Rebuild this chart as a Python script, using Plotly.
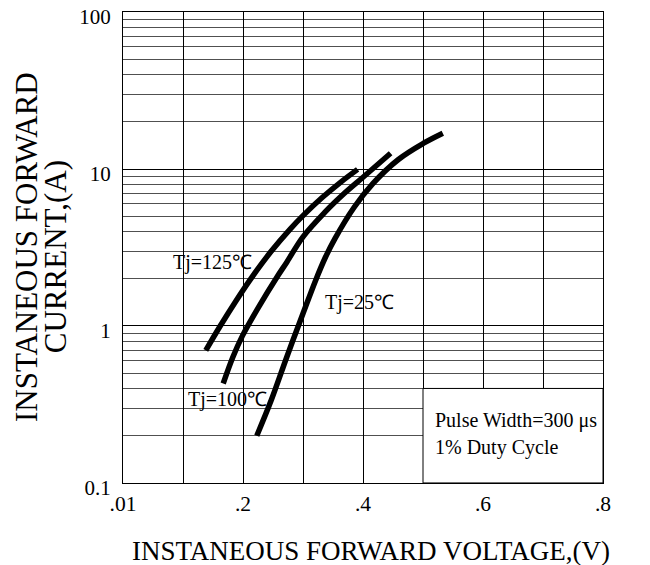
import plotly.graph_objects as go

# Forward characteristics (V, A)
v_125 = [0.138, 0.162, 0.188, 0.215, 0.247, 0.279, 0.300, 0.332, 0.363, 0.391]
i_125 = [0.70, 1.00, 1.44, 2.05, 2.99, 4.16, 5.05, 6.58, 8.26, 9.95]

v_100 = [0.167, 0.183, 0.199, 0.226, 0.257, 0.273, 0.300, 0.337, 0.369, 0.401, 0.446]
i_100 = [0.43, 0.632, 0.865, 1.32, 2.06, 2.55, 3.70, 5.33, 7.00, 8.93, 12.6]

v_25 = [0.223, 0.247, 0.273, 0.300, 0.321, 0.337, 0.353, 0.385, 0.416, 0.459, 0.501, 0.533]
i_25 = [0.20, 0.336, 0.635, 1.2, 1.95, 2.72, 3.59, 5.69, 8.04, 11.5, 14.6, 16.9]

x_tickvals = [0, 0.1, 0.2, 0.3, 0.4, 0.5, 0.6, 0.7, 0.8]
x_ticktext = [".01", "", ".2", "", ".4", "", ".6", "", ".8"]
y_tickvals = [0.1, 1, 10, 100]
y_ticktext = ["0.1", "1", "10", "100"]

FONT = "Liberation Serif, Times New Roman, serif"

fig = go.Figure()
for v, i in [(v_125, i_125), (v_100, i_100), (v_25, i_25)]:
    fig.add_trace(go.Scatter(x=v, y=i, mode="lines",
                             line=dict(color="black", width=5.5, shape="spline", smoothing=1),
                             showlegend=False, hoverinfo="skip"))

# white note box covering the grid in the lower-right corner
fig.add_shape(type="rect", xref="x", yref="y", x0=0.5, x1=0.8, y0=0.1, y1=0.4,
              fillcolor="white", line=dict(color="black", width=1), layer="between")

ann_font = dict(family=FONT, size=20, color="black")
fig.add_annotation(x=0.1485, y=0.406, xref="x", yref="y", text="Tj=125℃",
                   showarrow=False, font=ann_font, xanchor="center")
fig.add_annotation(x=0.1735, y=-0.467, xref="x", yref="y", text="Tj=100℃",
                   showarrow=False, font=ann_font, xanchor="center")
fig.add_annotation(x=0.334, y=0.151, xref="x", yref="y", text="Tj=25℃",
                   showarrow=False, font=ann_font, xanchor="left")
fig.add_annotation(x=0.517, y=-0.60, xref="x", yref="y", text="Pulse Width=300 μs",
                   showarrow=False, font=ann_font, xanchor="left")
fig.add_annotation(x=0.517, y=-0.776, xref="x", yref="y", text="1% Duty Cycle",
                   showarrow=False, font=ann_font, xanchor="left")

# axis titles
fig.add_annotation(x=-0.201, y=0.50, xref="paper", yref="paper",
                   xanchor="center", yanchor="middle",
                   text="INSTANEOUS FORWARD", textangle=-90, showarrow=False,
                   font=dict(family=FONT, size=31, color="black"))
fig.add_annotation(x=-0.139, y=0.48, xref="paper", yref="paper",
                   xanchor="center", yanchor="middle",
                   text="CURRENT,(A)", textangle=-90, showarrow=False,
                   font=dict(family=FONT, size=31, color="black"))
fig.add_annotation(x=0.516, y=-0.144, xref="paper", yref="paper",
                   xanchor="center", yanchor="middle",
                   text="INSTANEOUS FORWARD VOLTAGE,(V)", showarrow=False,
                   font=dict(family=FONT, size=27, color="black"))

fig.update_xaxes(range=[0, 0.8], tickvals=x_tickvals, ticktext=x_ticktext,
                 showgrid=True, gridcolor="black", gridwidth=1,
                 showline=True, linecolor="black", linewidth=1, mirror=True,
                 zeroline=False, ticks="", ticklabelstandoff=1, automargin=False,
                 tickfont=dict(family=FONT, size=21.5, color="black"))
fig.update_yaxes(type="log", range=[-1.0003, 2.0003], tickvals=y_tickvals, ticktext=y_ticktext,
                 showgrid=True, gridcolor="black", gridwidth=1,
                 minor=dict(dtick="D1", showgrid=True, gridcolor="#505050", gridwidth=1.3),
                 showline=True, linecolor="black", linewidth=1, mirror=True,
                 zeroline=False, ticks="", ticklabelstandoff=7, ticklabelshift=5,
                 automargin=False, ticklabeloverflow="allow",
                 tickfont=dict(family=FONT, size=21, color="black"))

# page body adds an 8px offset; figure is sized so the plot lands where the reference has it
fig.update_layout(template="none", width=642, height=557,
                  margin=dict(l=115, r=47, t=4, b=82),
                  paper_bgcolor="white", plot_bgcolor="white",
                  font=dict(family=FONT, color="black"))

fig.write_html("out.html")
